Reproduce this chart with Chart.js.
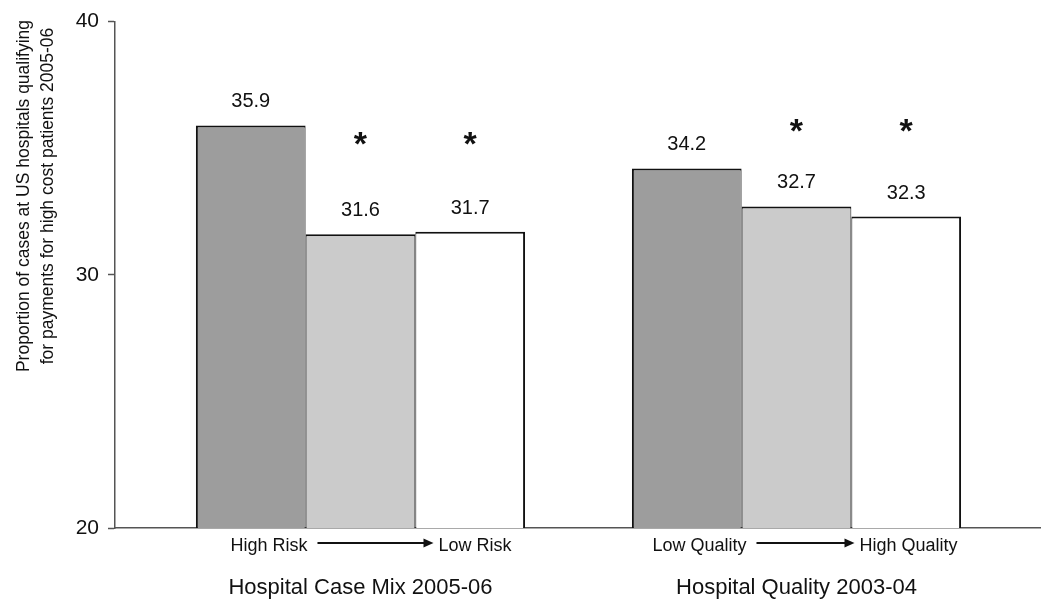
<!DOCTYPE html>
<html lang="en">
<head>
  <meta charset="UTF-8" />
  <title>High cost patient payments by hospital case mix and quality</title>
  <script src="https://cdn.jsdelivr.net/npm/chart.js"></script>
  <style>
    html, body { margin: 0; padding: 0; background: #fff; }
    #wrap { width: 1050px; height: 609px; }
  </style>
</head>
<body>
  <div id="wrap"><canvas id="chart"></canvas></div>

  <script>
    // data
    const groups = ['Hospital Case Mix 2005-06', 'Hospital Quality 2003-04'];
    const lowEnd = ['High Risk', 'Low Quality'];
    const highEnd = ['Low Risk', 'High Quality'];
    const firstTier = [35.9, 34.2];
    const middleTier = [31.6, 32.7];
    const lastTier = [31.7, 32.3];
    const starLevel = [35.2, 35.7];
    const yTicks = [20, 30, 40];

    const FONT = "'Liberation Sans', Arial, Helvetica, sans-serif";

    // under-axis label layout (pixel offsets from group centre)
    const endLabelGap = [[-53, 78], [-50, 63]];

    const tiers = [
      { values: firstTier, fill: '#9d9d9d', star: false },
      { values: middleTier, fill: '#cbcbcb', star: true },
      { values: lastTier, fill: '#ffffff', star: true }
    ];

    const datasets = tiers.map((t, i) => ({
      data: t.values.map((v, g) => ({ x: g, y: v })),
      backgroundColor: t.fill,
      borderColor: '#111',
      borderWidth: {
        top: 2,
        left: i === 0 ? 2 : 1,
        right: i === tiers.length - 1 ? 2 : 1,
        bottom: 0
      },
      categoryPercentage: 0.755,
      barPercentage: 1.0
    }));

    const annotate = {
      id: 'annotate',
      afterDraw(chart) {
        const ctx = chart.ctx;
        const ca = chart.chartArea;
        const x = chart.scales.x;
        const y = chart.scales.y;
        ctx.save();
        ctx.fillStyle = '#111';

        // value labels and asterisks
        tiers.forEach((t, i) => {
          const meta = chart.getDatasetMeta(i);
          meta.data.forEach((bar, g) => {
            ctx.font = '20px ' + FONT;
            ctx.textAlign = 'center';
            ctx.textBaseline = 'alphabetic';
            ctx.fillText(t.values[g].toFixed(1), bar.x, bar.y - 18);
            if (t.star) {
              ctx.font = 'bold 34px ' + FONT;
              ctx.fillText('*', bar.x, y.getPixelForValue(starLevel[g]) + 12);
            }
          });
        });

        // end labels with arrows, and group titles
        groups.forEach((name, g) => {
          const cx = x.getPixelForValue(g);
          const [l, r] = endLabelGap[g];
          const ay = ca.bottom + 15;
          ctx.font = '18px ' + FONT;
          ctx.textBaseline = 'alphabetic';
          ctx.textAlign = 'right';
          ctx.fillText(lowEnd[g], cx + l, ca.bottom + 23);
          ctx.textAlign = 'left';
          ctx.fillText(highEnd[g], cx + r, ca.bottom + 23);

          const x1 = cx + l + 10, x2 = cx + r - 5;
          ctx.strokeStyle = '#111';
          ctx.lineWidth = 2;
          ctx.beginPath();
          ctx.moveTo(x1, ay);
          ctx.lineTo(x2 - 8, ay);
          ctx.stroke();
          ctx.beginPath();
          ctx.moveTo(x2, ay);
          ctx.lineTo(x2 - 10, ay - 4.5);
          ctx.lineTo(x2 - 10, ay + 4.5);
          ctx.closePath();
          ctx.fill();

          ctx.font = '22px ' + FONT;
          ctx.textAlign = 'center';
          ctx.fillText(name, cx, ca.bottom + 66);
        });

        // y axis title, two lines
        ctx.translate(36, 196);
        ctx.rotate(-Math.PI / 2);
        ctx.font = '17.5px ' + FONT;
        ctx.textAlign = 'center';
        ctx.textBaseline = 'middle';
        ctx.fillText('Proportion of cases at US hospitals qualifying', 0, -12);
        ctx.fillText('for payments for high cost patients 2005-06', 0, 12);
        ctx.restore();
      }
    };

    new Chart(document.getElementById('chart'), {
      type: 'bar',
      data: { datasets },
      options: {
        responsive: true,
        maintainAspectRatio: false,
        animation: false,
        layout: { padding: { top: 18, right: 10, left: 0, bottom: 0 } },
        plugins: { legend: { display: false }, tooltip: { enabled: false } },
        scales: {
          x: {
            type: 'linear',
            offset: false,
            min: -0.563,
            max: 1.5585,
            afterBuildTicks(scale) { scale.ticks = groups.map((_, g) => ({ value: g })); },
            ticks: { display: false },
            grid: { display: false, offset: false },
            border: { color: '#555', width: 1.5 },
            afterFit(scale) { scale.height = 81; }
          },
          y: {
            min: 20,
            max: 40,
            afterBuildTicks(scale) { scale.ticks = yTicks.map(v => ({ value: v })); },
            ticks: { font: { family: FONT, size: 21 }, color: '#111', padding: 9 },
            grid: { drawOnChartArea: false, drawTicks: true, tickLength: 7, color: '#555', tickWidth: 1.5 },
            border: { color: '#555', width: 1.5 },
            afterFit(scale) { scale.width = 115; }
          }
        }
      },
      plugins: [annotate]
    });
  </script>
</body>
</html>
